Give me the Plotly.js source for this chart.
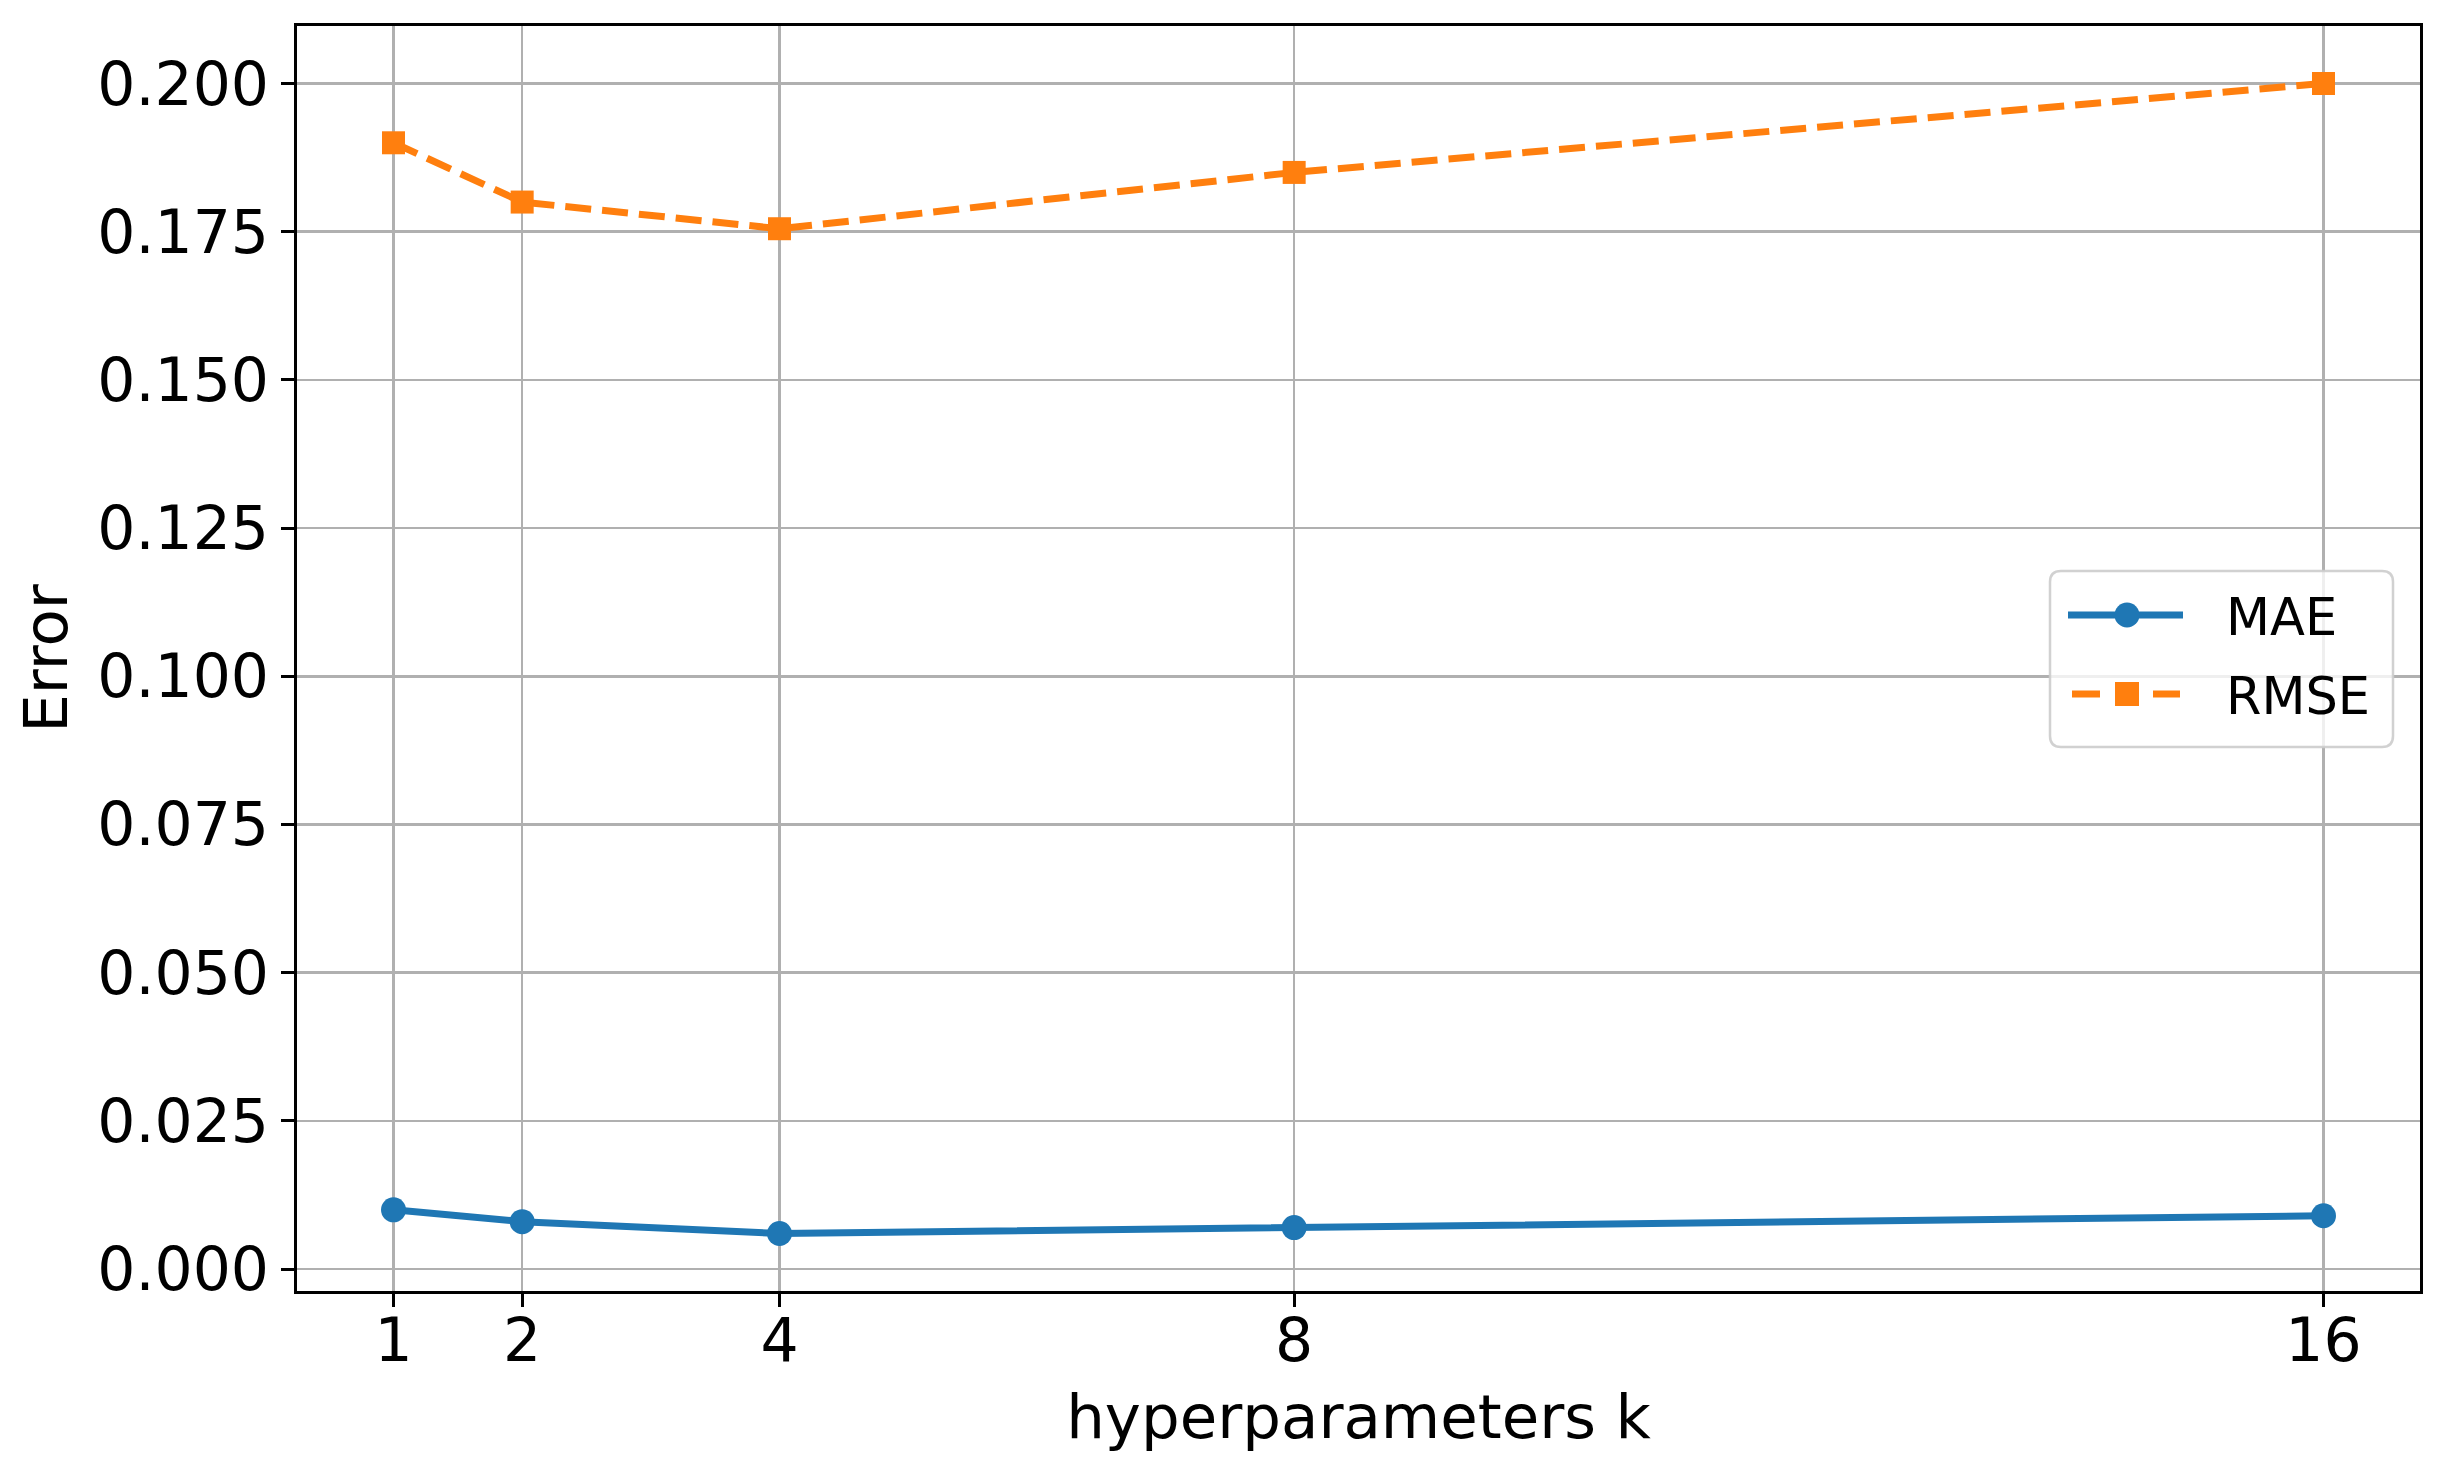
<!DOCTYPE html>
<html>
<head>
<meta charset="utf-8">
<script src="https://cdn.plot.ly/plotly-3.0.1.min.js"></script>
<style>
html,body{margin:0;padding:0;background:#fff;}
#chart{width:2447px;height:1484px;}
</style>
</head>
<body>
<div id="chart"></div>
<script>
const kValues = [1, 2, 4, 8, 16];
const maeValues = [0.010, 0.008, 0.006, 0.007, 0.009];
const rmseValues = [0.190, 0.180, 0.1755, 0.185, 0.200];
const xTickLabels = ['1', '2', '4', '8', '16'];
const yTickValues = [0, 0.025, 0.05, 0.075, 0.1, 0.125, 0.15, 0.175, 0.2];
const yTickLabels = yTickValues.map(v => v.toFixed(3));
const seriesNames = ['MAE', 'RMSE'];
const seriesColors = ['#1f77b4', '#ff7f0e'];

const FONT = 'DejaVu Sans, sans-serif';
const W = 2447, H = 1484;
const M = {l: 297, r: 27, t: 26, b: 193};
const PW = W - M.l - M.r, PH = H - M.t - M.b;
const px = x => (x - M.l) / PW;           // pixel -> paper x
const py = y => (H - M.b - y) / PH;        // pixel -> paper y

const traces = [
  {
    x: kValues, y: maeValues, name: seriesNames[0], type: 'scatter', mode: 'lines+markers',
    line: {color: seriesColors[0], width: 7},
    marker: {symbol: 'circle', size: 25, color: seriesColors[0]},
    showlegend: false
  },
  {
    x: kValues, y: rmseValues, name: seriesNames[1], type: 'scatter', mode: 'lines+markers',
    line: {color: seriesColors[1], width: 7, dash: '26px,11px'},
    marker: {symbol: 'square', size: 23, color: seriesColors[1]},
    showlegend: false
  }
];

// ---- legend (drawn as layout decorations, matplotlib style) ----
const LB = {x0: 2050, x1: 2393, y0: 571, y1: 747, r: 11};
function roundRectPath(b) {
  const r = b.r;
  const P = (x, y) => px(x) + ',' + py(y);
  return 'M' + P(b.x0 + r, b.y0) +
    ' L' + P(b.x1 - r, b.y0) + ' Q' + P(b.x1, b.y0) + ' ' + P(b.x1, b.y0 + r) +
    ' L' + P(b.x1, b.y1 - r) + ' Q' + P(b.x1, b.y1) + ' ' + P(b.x1 - r, b.y1) +
    ' L' + P(b.x0 + r, b.y1) + ' Q' + P(b.x0, b.y1) + ' ' + P(b.x0, b.y1 - r) +
    ' L' + P(b.x0, b.y0 + r) + ' Q' + P(b.x0, b.y0) + ' ' + P(b.x0 + r, b.y0) + ' Z';
}
const rowY = [615, 694];
const shapes = [
  {type: 'path', xref: 'paper', yref: 'paper', path: roundRectPath(LB),
   fillcolor: 'rgba(255,255,255,0.8)', line: {color: 'rgba(204,204,204,0.9)', width: 2.5}, layer: 'above'},
  // MAE key
  {type: 'line', xref: 'paper', yref: 'paper', x0: px(2068), x1: px(2183), y0: py(rowY[0]), y1: py(rowY[0]),
   line: {color: seriesColors[0], width: 7}, layer: 'above'},
  {type: 'circle', xref: 'paper', yref: 'paper', x0: px(2127 - 12.5), x1: px(2127 + 12.5),
   y0: py(rowY[0] + 12.5), y1: py(rowY[0] - 12.5), fillcolor: seriesColors[0], line: {width: 0}, layer: 'above'},
  // RMSE key
  {type: 'line', xref: 'paper', yref: 'paper', x0: px(2072), x1: px(2100), y0: py(rowY[1]), y1: py(rowY[1]),
   line: {color: seriesColors[1], width: 7}, layer: 'above'},
  {type: 'line', xref: 'paper', yref: 'paper', x0: px(2153), x1: px(2180), y0: py(rowY[1]), y1: py(rowY[1]),
   line: {color: seriesColors[1], width: 7}, layer: 'above'},
  {type: 'rect', xref: 'paper', yref: 'paper', x0: px(2127 - 12), x1: px(2127 + 12),
   y0: py(rowY[1] + 12), y1: py(rowY[1] - 12), fillcolor: seriesColors[1], line: {width: 0}, layer: 'above'}
];
const annotations = seriesNames.map((n, i) => ({
  text: n, xref: 'paper', yref: 'paper', x: px(2224), y: py(rowY[i] + 2),
  xanchor: 'left', yanchor: 'middle', showarrow: false,
  font: {family: FONT, size: 51, color: '#000'}
}));

const axisCommon = {
  showline: true, mirror: true, linecolor: '#000', linewidth: 3,
  showgrid: true, gridcolor: '#b0b0b0', gridwidth: 2.5,
  zeroline: false,
  ticks: 'outside', ticklen: 13, tickwidth: 3, tickcolor: '#000',
  tickfont: {family: FONT, size: 60, color: '#000'}
};

const layout = {
  width: W, height: H,
  paper_bgcolor: '#fff', plot_bgcolor: '#fff',
  margin: {l: M.l, r: M.r, t: M.t, b: M.b, pad: 0},
  font: {family: FONT, color: '#000'},
  showlegend: false,
  shapes: shapes,
  annotations: annotations,
  xaxis: Object.assign({}, axisCommon, {
    range: [0.25, 16.75],
    tickmode: 'array', tickvals: kValues, ticktext: xTickLabels,
    ticklabelstandoff: -18,
    title: {text: 'hyperparameters k', font: {family: FONT, size: 61, color: '#000'}, standoff: 22}
  }),
  yaxis: Object.assign({}, axisCommon, {
    range: [-0.0037, 0.2097],
    tickmode: 'array', tickvals: yTickValues, ticktext: yTickLabels,
    title: {text: 'Error', font: {family: FONT, size: 61, color: '#000'}, standoff: 10}
  })
};

Plotly.newPlot('chart', traces, layout, {displayModeBar: false, staticPlot: true});
</script>
</body>
</html>
